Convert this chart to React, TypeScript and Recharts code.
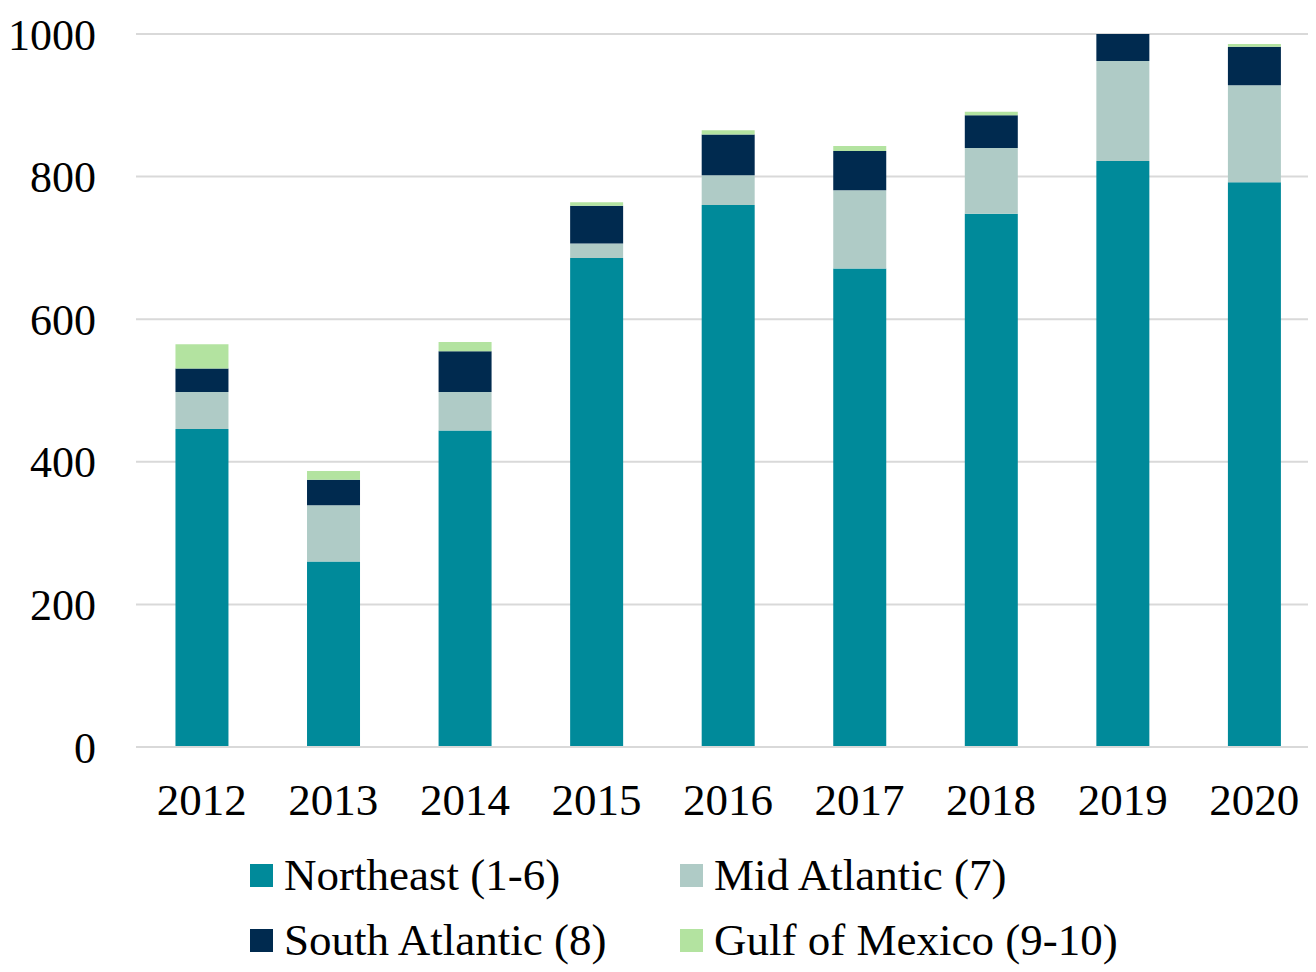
import React from 'react';
import { BarChart, Bar, XAxis, YAxis, CartesianGrid, Legend } from 'recharts';

const years = ['2012', '2013', '2014', '2015', '2016', '2017', '2018', '2019', '2020'];
const northeast = [446, 260, 444, 686, 760, 671, 748, 822, 792];
const midAtlantic = [52, 79, 54, 20, 42, 110, 92, 140, 136];
const southAtlantic = [33, 36, 57, 53, 57, 55, 46, 38, 54];
const gulfOfMexico = [34, 12, 13, 5, 6, 7, 5, 0, 4];
const yTicks = [0, 200, 400, 600, 800, 1000];

const seriesNames = ['Northeast (1-6)', 'Mid Atlantic (7)', 'South Atlantic (8)', 'Gulf of Mexico (9-10)'];
const seriesKeys = ['ne', 'mid', 'south', 'gulf'];
const colors = ['#008A9A', '#AFCBC6', '#002A4F', '#B3E3A0'];

const data = years.map((y, i) => ({
  year: y,
  ne: northeast[i],
  mid: midAtlantic[i],
  south: southAtlantic[i],
  gulf: gulfOfMexico[i],
}));

const FONT = '"Liberation Serif", serif';

const renderLegend = () => (
  <div style={{ position: 'relative', width: 1308, height: 124, fontFamily: FONT, fontSize: 45, color: '#000' }}>
    {seriesNames.map((name, i) => {
      const col = i % 2;
      const row = Math.floor(i / 2);
      return (
        <div
          key={name}
          style={{
            position: 'absolute',
            left: 242 + col * 430,
            top: row * 65,
            height: 56,
            display: 'flex',
            alignItems: 'center',
            whiteSpace: 'nowrap',
          }}
        >
          <span style={{ display: 'inline-block', width: 23, height: 23, background: colors[i], marginRight: 11 }} />
          <span>{name}</span>
        </div>
      );
    })}
  </div>
);

export default function App() {
  return (
    <BarChart
      width={1312}
      height={964}
      data={data}
      margin={{ top: 26, right: 0, left: 0, bottom: 135 }}
      barCategoryGap="30%"
    >
      <CartesianGrid vertical={false} stroke="#d9d9d9" strokeWidth={2} />
      <XAxis
        dataKey="year"
        axisLine={{ stroke: '#d9d9d9', strokeWidth: 2 }}
        tickLine={false}
        tickSize={0}
        tickMargin={36}
        height={90}
        tick={{ fill: '#000', fontFamily: FONT, fontSize: 45 }}
      />
      <YAxis
        domain={[0, 1000]}
        ticks={yTicks}
        allowDataOverflow
        axisLine={false}
        tickLine={false}
        tickSize={0}
        tickMargin={40}
        width={128}
        tick={{ fill: '#000', fontFamily: FONT, fontSize: 44 }}
      />
      <Legend
        layout="horizontal"
        verticalAlign="middle"
        align="center"
        content={renderLegend}
        wrapperStyle={{ top: 839, left: 0, width: 1308, height: 124 }}
      />
      {seriesKeys.map((k, i) => (
        <Bar key={k} dataKey={k} name={seriesNames[i]} stackId="a" fill={colors[i]} isAnimationActive={false} />
      ))}
    </BarChart>
  );
}
